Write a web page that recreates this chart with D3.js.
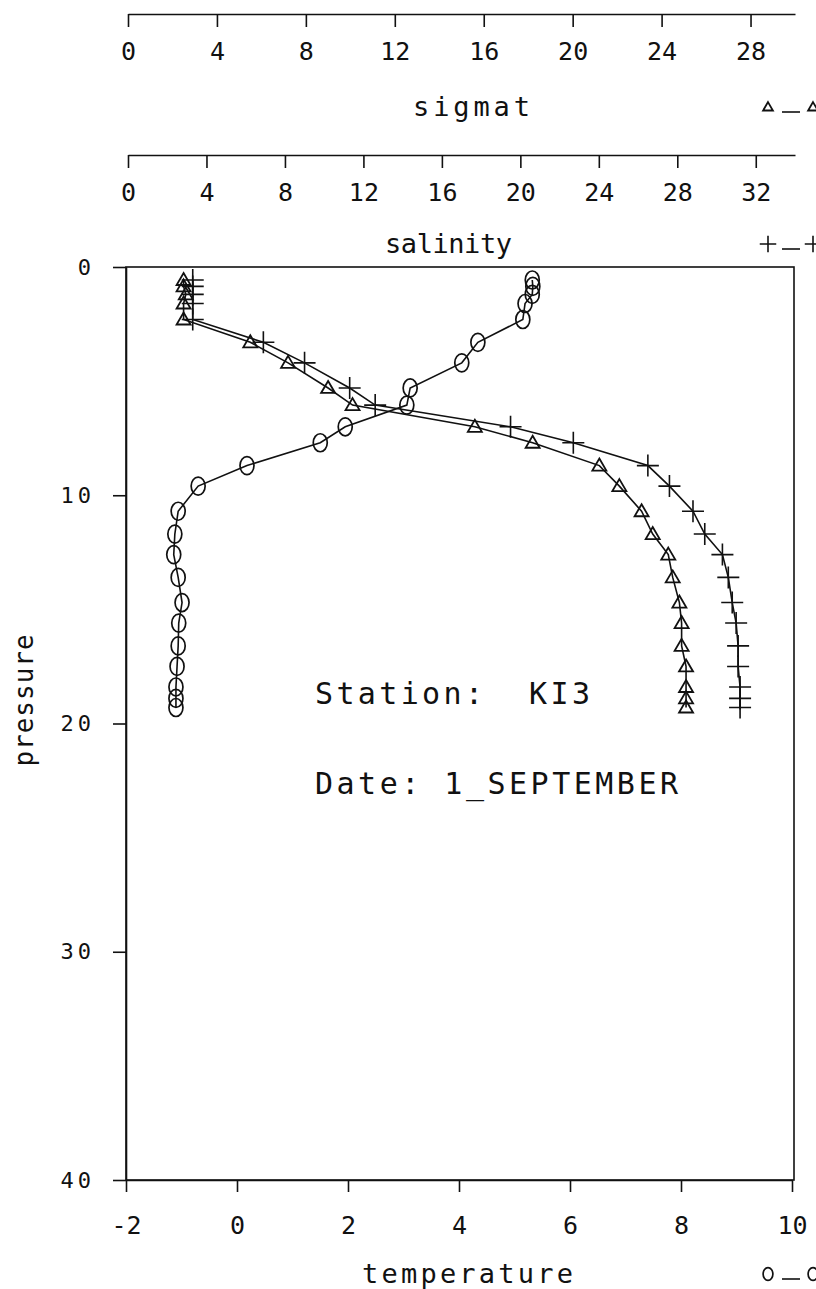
<!DOCTYPE html>
<html>
<head>
<meta charset="utf-8">
<script src="https://cdn.jsdelivr.net/npm/d3@7"></script>
<style>
  html, body { margin: 0; padding: 0; background: #fff; }
  svg { display: block; }
  text { font-family: "DejaVu Sans Mono", "Liberation Mono", monospace; fill: #111; white-space: pre; }
</style>
</head>
<body>
<svg id="chart" width="816" height="1289"></svg>
<script>
// ---- data ----
const pressure    = [0.57, 0.85, 1.2, 1.6, 2.3, 3.3, 4.2, 5.3, 6.05, 7.0, 7.7, 8.7, 9.6, 10.7, 11.7, 12.6, 13.6, 14.7, 15.6, 16.6, 17.5, 18.4, 18.9, 19.3];
const temperature = [5.32, 5.33, 5.32, 5.19, 5.15, 4.34, 4.05, 3.12, 3.06, 1.95, 1.50, 0.18, -0.70, -1.06, -1.12, -1.14, -1.06, -0.99, -1.05, -1.06, -1.08, -1.10, -1.10, -1.10];
const sigmat      = [2.5, 2.5, 2.6, 2.5, 2.5, 5.5, 7.2, 9.0, 10.1, 15.6, 18.2, 21.2, 22.1, 23.1, 23.6, 24.3, 24.5, 24.8, 24.9, 24.9, 25.1, 25.1, 25.1, 25.1];
const salinity    = [3.3, 3.3, 3.3, 3.3, 3.3, 6.9, 9.0, 11.3, 12.6, 19.5, 22.7, 26.5, 27.6, 28.8, 29.4, 30.3, 30.6, 30.8, 31.0, 31.1, 31.1, 31.2, 31.2, 31.2];

const tempTicks     = [-2, 0, 2, 4, 6, 8, 10];
const sigmatTicks   = [0, 4, 8, 12, 16, 20, 24, 28];
const salinityTicks = [0, 4, 8, 12, 16, 20, 24, 28, 32];
const pressureTicks = [0, 10, 20, 30, 40];

const stationText = "Station:  KI3";
const dateText    = "Date: 1_SEPTEMBER";

// ---- layout ----
const L = 126, R = 794, T = 267, B = 1180;
const svg = d3.select("#chart");

const xT = d3.scaleLinear().domain([-2, 10]).range([L, R - 2]);
const xS = d3.scaleLinear().domain([0, 30]).range([128, R + 1]);
const xSal = d3.scaleLinear().domain([0, 34]).range([128, R + 1]);
const y = d3.scaleLinear().domain([0, 40]).range([T, B]);

function styleAxis(g, fs) {
  g.attr("font-size", fs);
  g.selectAll("path, line").attr("stroke", "#111").attr("stroke-width", 1.6);
  g.selectAll("text").attr("font-size", fs).attr("fill", "#111")
    .style("font-family", '"DejaVu Sans Mono", monospace');
}

// top sigmat axis
svg.append("g").attr("transform", "translate(0,14)")
  .call(d3.axisBottom(xS).tickValues(sigmatTicks).tickSize(13).tickSizeOuter(0).tickPadding(15).tickFormat(d3.format("d")))
  .call(g => styleAxis(g, 25));

// salinity axis
svg.append("g").attr("transform", "translate(0,155)")
  .call(d3.axisBottom(xSal).tickValues(salinityTicks).tickSize(13).tickSizeOuter(0).tickPadding(15).tickFormat(d3.format("d")))
  .call(g => styleAxis(g, 25));

// frame
svg.append("rect").attr("x", L).attr("y", T).attr("width", R - L).attr("height", B - T)
  .attr("fill", "none").attr("stroke", "#111").attr("stroke-width", 1.6);

// bottom temperature axis
svg.append("g").attr("transform", `translate(0,${B})`)
  .call(d3.axisBottom(xT).tickValues(tempTicks).tickSize(12).tickSizeOuter(0).tickPadding(24).tickFormat(d => d3.format("d")(d).replace("\u2212", "-")))
  .call(g => styleAxis(g, 25));

// left pressure axis
svg.append("g").attr("transform", `translate(${L},0)`)
  .call(d3.axisLeft(y).tickValues(pressureTicks).tickSize(13).tickSizeOuter(0).tickPadding(18).tickFormat(d3.format("d")))
  .call(g => styleAxis(g, 22))
  .call(g => g.selectAll("text").attr("letter-spacing", 4));

// axis titles
function label(txt, x, yy, len, fs) {
  return svg.append("text").attr("x", x).attr("y", yy).attr("font-size", fs)
    .attr("xml:space", "preserve")
    .attr("textLength", len).attr("lengthAdjust", "spacing").text(txt);
}
label("sigmat", 413, 116, 117, 27);
label("salinity", 385, 253, 127, 27);
label("temperature", 362, 1283, 211, 27);
svg.append("text").attr("transform", "translate(33,700) rotate(-90)")
  .attr("text-anchor", "middle").attr("font-size", 26).attr("letter-spacing", 1).text("pressure");

label(stationText, 315, 704, 275, 30);
label(dateText, 315, 794, 363, 30);

// ---- markers ----
const circleSym = (g, cx, cy, s) => g.append("ellipse").attr("cx", cx).attr("cy", cy)
  .attr("rx", 7 * s).attr("ry", 9 * s).attr("fill", "none").attr("stroke", "#111").attr("stroke-width", 1.7);
const triSym = (g, cx, cy, s) => g.append("path")
  .attr("d", `M${cx},${cy - 7 * s}L${cx + 7 * s},${cy + 5 * s}L${cx - 7 * s},${cy + 5 * s}Z`)
  .attr("fill", "none").attr("stroke", "#111").attr("stroke-width", 1.8);
const plusSym = (g, cx, cy, s) => g.append("path")
  .attr("d", `M${cx - 11 * s},${cy}H${cx + 11 * s}M${cx},${cy - 11 * s}V${cy + 11 * s}`)
  .attr("fill", "none").attr("stroke", "#111").attr("stroke-width", 1.6);

const plot = svg.append("g");
function series(vals, xs, sym) {
  const pts = pressure.map((p, i) => [xs(vals[i]), y(p)]);
  plot.append("path").attr("d", d3.line()(pts)).attr("fill", "none")
    .attr("stroke", "#111").attr("stroke-width", 1.6);
  const g = plot.append("g");
  pts.forEach(([px, py]) => sym(g, px, py, 1));
}
series(temperature, xT, circleSym);
series(sigmat, xS, triSym);
series(salinity, xSal, plusSym);

// ---- legend keys (right edge, clipped) ----
const lg = svg.append("g");
function key(sym, yy, s) {
  sym(lg, 768, yy, s);
  lg.append("line").attr("x1", 782).attr("x2", 800).attr("y1", yy + 5).attr("y2", yy + 5)
    .attr("stroke", "#111").attr("stroke-width", 1.6);
  sym(lg, 813, yy, s);
}
key(triSym, 107, 0.7);
key(plusSym, 244, 0.75);
key(circleSym, 1274, 0.7);
</script>
</body>
</html>
